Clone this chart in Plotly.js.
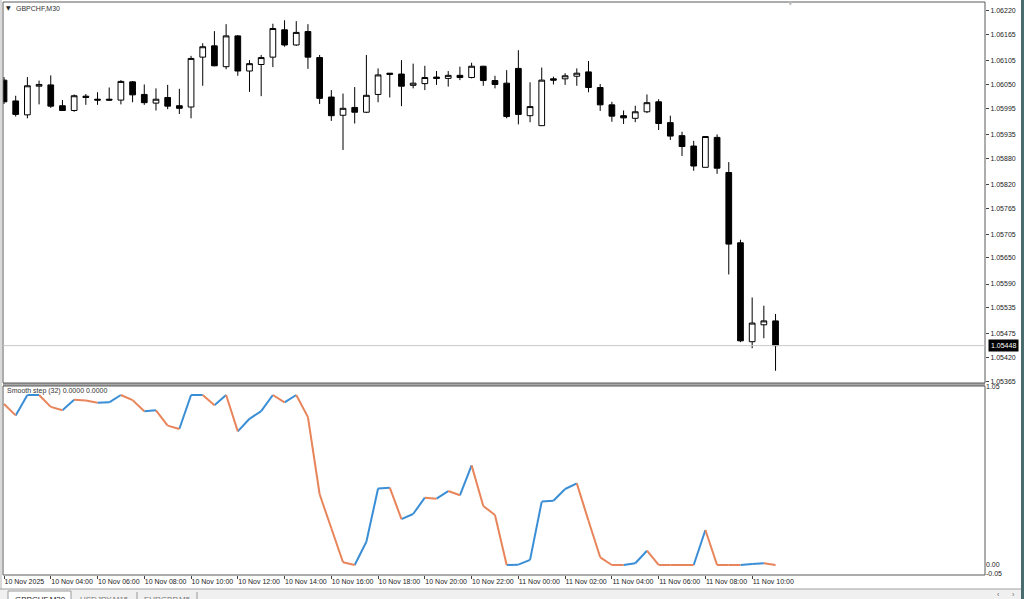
<!DOCTYPE html>
<html>
<head>
<meta charset="utf-8">
<script src="https://cdn.plot.ly/plotly-3.0.1.min.js"></script>
<style>
html,body{margin:0;padding:0;background:#fff;}
#chart{width:1024px;height:599px;}
</style>
</head>
<body>
<div id="chart"></div>
<script>
// ---- data ----
const symbolLabel = "GBPCHF,M30";
const indicatorLabel = "Smooth step (32) 0.0000 0.0000";

const times = [
 "2025-11-10 02:00","2025-11-10 02:30","2025-11-10 03:00","2025-11-10 03:30","2025-11-10 04:00","2025-11-10 04:30",
 "2025-11-10 05:00","2025-11-10 05:30","2025-11-10 06:00","2025-11-10 06:30","2025-11-10 07:00","2025-11-10 07:30",
 "2025-11-10 08:00","2025-11-10 08:30","2025-11-10 09:00","2025-11-10 09:30","2025-11-10 10:00","2025-11-10 10:30",
 "2025-11-10 11:00","2025-11-10 11:30","2025-11-10 12:00","2025-11-10 12:30","2025-11-10 13:00","2025-11-10 13:30",
 "2025-11-10 14:00","2025-11-10 14:30","2025-11-10 15:00","2025-11-10 15:30","2025-11-10 16:00","2025-11-10 16:30",
 "2025-11-10 17:00","2025-11-10 17:30","2025-11-10 18:00","2025-11-10 18:30","2025-11-10 19:00","2025-11-10 19:30",
 "2025-11-10 20:00","2025-11-10 20:30","2025-11-10 21:00","2025-11-10 21:30","2025-11-10 22:00","2025-11-10 22:30",
 "2025-11-10 23:00","2025-11-10 23:30","2025-11-11 00:00","2025-11-11 00:30","2025-11-11 01:00","2025-11-11 01:30",
 "2025-11-11 02:00","2025-11-11 02:30","2025-11-11 03:00","2025-11-11 03:30","2025-11-11 04:00","2025-11-11 04:30",
 "2025-11-11 05:00","2025-11-11 05:30","2025-11-11 06:00","2025-11-11 06:30","2025-11-11 07:00","2025-11-11 07:30",
 "2025-11-11 08:00","2025-11-11 08:30","2025-11-11 09:00","2025-11-11 09:30","2025-11-11 10:00","2025-11-11 10:30",
 "2025-11-11 11:00"
];

const open = [
 1.06060,1.06012,1.05980,1.06046,1.06049,1.06001,1.05990,1.06023,1.06016,1.06016,
 1.06014,1.06056,1.06027,1.06007,1.06020,1.06001,1.05998,1.06113,1.06139,1.06091,
 1.06162,1.06081,1.06096,1.06113,1.06176,1.06141,1.06172,1.06112,1.06021,1.05979,
 1.05997,1.05986,1.06027,1.06073,1.06074,1.06048,1.06052,1.06067,1.06064,1.06071,
 1.06066,1.06092,1.06059,1.06053,1.06087,1.05978,1.05955,1.06063,1.06063,1.06069,
 1.06079,1.06043,1.06003,1.05978,1.05972,1.05987,1.06010,1.05962,1.05932,1.05908,
 1.05859,1.05928,1.05847,1.05685,1.05457,1.05496,1.05505
];
const high = [
 1.06067,1.06024,1.06067,1.06059,1.06071,1.06014,1.06027,1.06028,1.06032,1.06043,
 1.06060,1.06058,1.06050,1.06041,1.06049,1.06040,1.06116,1.06145,1.06173,1.06189,
 1.06164,1.06106,1.06118,1.06190,1.06198,1.06196,1.06189,1.06118,1.06037,1.06029,
 1.06044,1.06118,1.06087,1.06076,1.06106,1.06098,1.06093,1.06081,1.06081,1.06091,
 1.06100,1.06093,1.06070,1.06083,1.06129,1.06055,1.06089,1.06068,1.06076,1.06087,
 1.06104,1.06051,1.06010,1.05990,1.06001,1.06027,1.06016,1.05978,1.05941,1.05920,
 1.05930,1.05935,1.05871,1.05692,1.05559,1.05540,1.05521
];
const low = [
 1.06005,1.05976,1.05972,1.06004,1.05996,1.05989,1.05987,1.06003,1.06003,1.06012,
 1.06004,1.06009,1.06003,1.05990,1.05993,1.05982,1.05972,1.06047,1.06092,1.06085,
 1.06070,1.06033,1.06023,1.06090,1.06137,1.06139,1.06086,1.06005,1.05966,1.05899,
 1.05960,1.05984,1.06009,1.06020,1.06000,1.06041,1.06037,1.06049,1.06045,1.06060,
 1.06064,1.06047,1.06041,1.05972,1.05958,1.05963,1.05955,1.06050,1.06049,1.06047,
 1.06032,1.05989,1.05964,1.05959,1.05963,1.05984,1.05945,1.05922,1.05885,1.05851,
 1.05859,1.05844,1.05612,1.05456,1.05442,1.05465,1.05390
];
const close = [
 1.06010,1.05981,1.06047,1.06050,1.06000,1.05990,1.06024,1.06020,1.06014,1.06014,
 1.06057,1.06026,1.06008,1.06016,1.06000,1.05995,1.06110,1.06137,1.06093,1.06162,
 1.06081,1.06098,1.06112,1.06179,1.06141,1.06170,1.06113,1.06018,1.05978,1.05995,
 1.05986,1.06025,1.06072,1.06076,1.06046,1.06053,1.06066,1.06064,1.06071,1.06066,
 1.06092,1.06059,1.06050,1.05976,1.05981,1.05999,1.06060,1.06060,1.06070,1.06076,
 1.06043,1.06003,1.05977,1.05973,1.05987,1.06008,1.05960,1.05931,1.05907,1.05862,
 1.05930,1.05857,1.05682,1.05459,1.05500,1.05505,1.05448
];

const smoothStep = [
 0.947,0.880,1.000,1.000,0.930,0.910,0.972,0.968,0.955,0.957,
 1.000,0.970,0.905,0.910,0.820,0.800,1.000,1.000,0.940,1.000,
 0.786,0.860,0.905,1.000,0.957,1.000,0.870,0.416,0.216,0.016,
 0.000,0.137,0.450,0.455,0.270,0.300,0.396,0.390,0.435,0.410,
 0.586,0.347,0.294,0.000,0.002,0.030,0.373,0.378,0.447,0.480,
 0.260,0.045,0.000,0.000,0.010,0.084,0.000,0.000,0.000,0.000,
 0.206,0.000,0.000,0.000,0.006,0.010,0.000
];

const priceTicks = [1.06220,1.06165,1.06105,1.06050,1.05995,1.05935,1.05880,1.05820,
                    1.05765,1.05705,1.05650,1.05590,1.05535,1.05475,1.05420,1.05365];
const priceTickLabels = ["1.06220","1.06165","1.06105","1.06050","1.05995","1.05935","1.05880","1.05820",
                         "1.05765","1.05705","1.05650","1.05590","1.05535","1.05475","1.05420","1.05365"];
const indTicks = [1.05, 0, -0.05];
const indTickLabels = ["1.05","0.00","-0.05"];

const timeTicks = ["2025-11-10 02:00","2025-11-10 04:00","2025-11-10 06:00","2025-11-10 08:00","2025-11-10 10:00",
 "2025-11-10 12:00","2025-11-10 14:00","2025-11-10 16:00","2025-11-10 18:00","2025-11-10 20:00","2025-11-10 22:00",
 "2025-11-11 00:00","2025-11-11 02:00","2025-11-11 04:00","2025-11-11 06:00","2025-11-11 08:00","2025-11-11 10:00"];
const timeTickLabels = ["10 Nov 2025","10 Nov 04:00","10 Nov 06:00","10 Nov 08:00","10 Nov 10:00",
 "10 Nov 12:00","10 Nov 14:00","10 Nov 16:00","10 Nov 18:00","10 Nov 20:00","10 Nov 22:00",
 "11 Nov 00:00","11 Nov 02:00","11 Nov 04:00","11 Nov 06:00","11 Nov 08:00","11 Nov 10:00"];

const tabs = ["GBPCHF,M30","USDJPY,M15","EURGBP,M5"];

// ---- styling / layout ----
const FONT = "Liberation Sans, Arial, sans-serif";
const UP = "#3a8ed6", DOWN = "#e8845a";
const W = 1024, H = 599, ML = 3, MR = 39, MT = 2, MB = 24;
const PW = W - ML - MR, PH = H - MT - MB;
const px2x = p => (p - ML) / PW;
const py2y = p => (H - MB - p) / PH;

// indicator colored segments (blue rising, orange falling)
const upX = [], upY = [], dnX = [], dnY = [];
let prevDir = 1;
for (let i = 1; i < smoothStep.length; i++) {
  let d = smoothStep[i] > smoothStep[i-1] ? 1 : (smoothStep[i] < smoothStep[i-1] ? -1 : prevDir);
  const X = d > 0 ? upX : dnX, Y = d > 0 ? upY : dnY;
  X.push(times[i-1], times[i], null);
  Y.push(smoothStep[i-1], smoothStep[i], null);
  prevDir = d;
}

const traces = [
  {
    type: "candlestick", x: times, open: open, high: high, low: low, close: close,
    xaxis: "x", yaxis: "y",
    increasing: {line: {color: "#000", width: 1}, fillcolor: "#fff"},
    decreasing: {line: {color: "#000", width: 1}, fillcolor: "#000"},
    whiskerwidth: 0, hoverinfo: "skip", showlegend: false
  },
  {type: "scatter", mode: "lines", x: upX, y: upY, xaxis: "x", yaxis: "y2",
   line: {color: UP, width: 2}, connectgaps: false, hoverinfo: "skip", showlegend: false},
  {type: "scatter", mode: "lines", x: dnX, y: dnY, xaxis: "x", yaxis: "y2",
   line: {color: DOWN, width: 2}, connectgaps: false, hoverinfo: "skip", showlegend: false}
];

const t0 = Date.parse(times[0].replace(" ", "T") + ":00Z");
const barMs = 30 * 60 * 1000;
const barPx = 11.69;
const xRange = [t0 - (1 / barPx) * barMs, t0 + ((W - MR - ML - 1) / barPx) * barMs];

const yRange = [1.053618, 1.062401];
const y2Range = [-0.059, 1.053];
const mainBottom = py2y(383), indTop = py2y(386);
const lastPrice = close[close.length - 1];

const shapes = [
  {type: "rect", xref: "paper", yref: "paper", x0: 0, x1: 1, y0: indTop, y1: mainBottom,
   fillcolor: "#a8a8a8", line: {width: 0}},
  {type: "rect", xref: "paper", yref: "paper", x0: 0, x1: 1, y0: mainBottom, y1: 1,
   line: {color: "#5a5a5a", width: 1}},
  {type: "rect", xref: "paper", yref: "paper", x0: 0, x1: 1, y0: 0, y1: indTop,
   line: {color: "#5a5a5a", width: 1}},
  {type: "line", xref: "paper", yref: "y", x0: 0, x1: 1, y0: lastPrice, y1: lastPrice,
   line: {color: "#c8c8c8", width: 1}},
  {type: "line", xref: "paper", yref: "paper", x0: px2x(1), x1: px2x(1), y0: py2y(589), y1: py2y(0),
   line: {color: "#b4b4b4", width: 1}},
  {type: "rect", xref: "paper", yref: "paper", x0: px2x(1021), x1: px2x(1024), y0: py2y(599), y1: py2y(0),
   fillcolor: "#4a6c6e", line: {width: 0}},
  {type: "rect", xref: "paper", yref: "paper", x0: px2x(0), x1: px2x(1021), y0: py2y(599), y1: py2y(589),
   fillcolor: "#f0f0f0", line: {width: 0}},
  {type: "line", xref: "paper", yref: "paper", x0: px2x(0), x1: px2x(1021), y0: py2y(589), y1: py2y(589),
   line: {color: "#a0a0a0", width: 1}},
  {type: "rect", xref: "paper", yref: "paper", x0: px2x(8), x1: px2x(71), y0: py2y(601), y1: py2y(591),
   fillcolor: "#ffffff", line: {color: "#9a9a9a", width: 1}},
  {type: "line", xref: "paper", yref: "paper", x0: px2x(137), x1: px2x(137), y0: py2y(599), y1: py2y(592),
   line: {color: "#9a9a9a", width: 1}},
  {type: "line", xref: "paper", yref: "paper", x0: px2x(197), x1: px2x(197), y0: py2y(599), y1: py2y(592),
   line: {color: "#9a9a9a", width: 1}}
];

const tabX = [40, 104, 167];
const annotations = [
  {xref: "paper", yref: "paper", x: px2x(4), y: py2y(7.5), xanchor: "left", yanchor: "middle",
   text: "▼", showarrow: false, font: {family: "DejaVu Sans", size: 6, color: "#222"}},
  {xref: "paper", yref: "paper", x: px2x(14), y: py2y(8), xanchor: "left", yanchor: "middle",
   text: symbolLabel, showarrow: false, font: {family: FONT, size: 7, color: "#333"}},
  {xref: "paper", yref: "paper", x: px2x(790), y: py2y(3), xanchor: "center", yanchor: "middle",
   text: "▼", showarrow: false, font: {family: "DejaVu Sans", size: 6, color: "#b8b8b8"}},
  {xref: "paper", yref: "paper", x: px2x(5), y: py2y(391), xanchor: "left", yanchor: "middle",
   text: indicatorLabel, showarrow: false, font: {family: FONT, size: 7, color: "#333"}},
  {xref: "paper", yref: "y", x: px2x(988), y: lastPrice, xanchor: "left", yanchor: "middle",
   text: lastPrice.toFixed(5), showarrow: false, bgcolor: "#000", borderpad: 2,
   font: {family: FONT, size: 7, color: "#fff"}},
  {xref: "paper", yref: "paper", x: px2x(999), y: py2y(594.5), xanchor: "center", yanchor: "middle",
   text: "‹", showarrow: false, font: {family: FONT, size: 7, color: "#666"}},
  {xref: "paper", yref: "paper", x: px2x(1013), y: py2y(594.5), xanchor: "center", yanchor: "middle",
   text: "›", showarrow: false, font: {family: FONT, size: 7, color: "#666"}}
];
tabs.forEach((t, k) => annotations.push({
  xref: "paper", yref: "paper", x: px2x(tabX[k]), y: py2y(593), xanchor: "center", yanchor: "top",
  text: t, showarrow: false, font: {family: FONT, size: 8, color: k === 0 ? "#222" : "#777"}
}));

const layout = {
  width: W, height: H,
  margin: {l: ML, r: MR, t: MT, b: MB, pad: 0},
  paper_bgcolor: "#fff", plot_bgcolor: "#fff",
  font: {family: FONT, size: 7, color: "#222"},
  showlegend: false,
  xaxis: {
    type: "date", range: xRange, anchor: "y2",
    tickvals: timeTicks, ticktext: timeTickLabels, tickangle: 0,
    ticklabelposition: "outside right",
    ticks: "outside", ticklen: 3, tickcolor: "#444",
    showgrid: false, zeroline: false, showline: false,
    rangeslider: {visible: false}, fixedrange: true,
    tickfont: {family: FONT, size: 7, color: "#222"}
  },
  yaxis: {
    domain: [mainBottom, 1], range: yRange, side: "right", anchor: "x",
    tickvals: priceTicks, ticktext: priceTickLabels,
    ticks: "outside", ticklen: 3, tickcolor: "#444",
    showgrid: false, zeroline: false, showline: false,
    tickfont: {family: FONT, size: 7, color: "#222"}
  },
  yaxis2: {
    domain: [0, indTop], range: y2Range, side: "right", anchor: "x",
    tickvals: indTicks, ticktext: indTickLabels,
    ticks: "", showgrid: false, zeroline: false, showline: false,
    tickfont: {family: FONT, size: 7, color: "#222"}
  },
  shapes: shapes,
  annotations: annotations
};

Plotly.newPlot("chart", traces, layout, {displayModeBar: false, staticPlot: true});
</script>
</body>
</html>
